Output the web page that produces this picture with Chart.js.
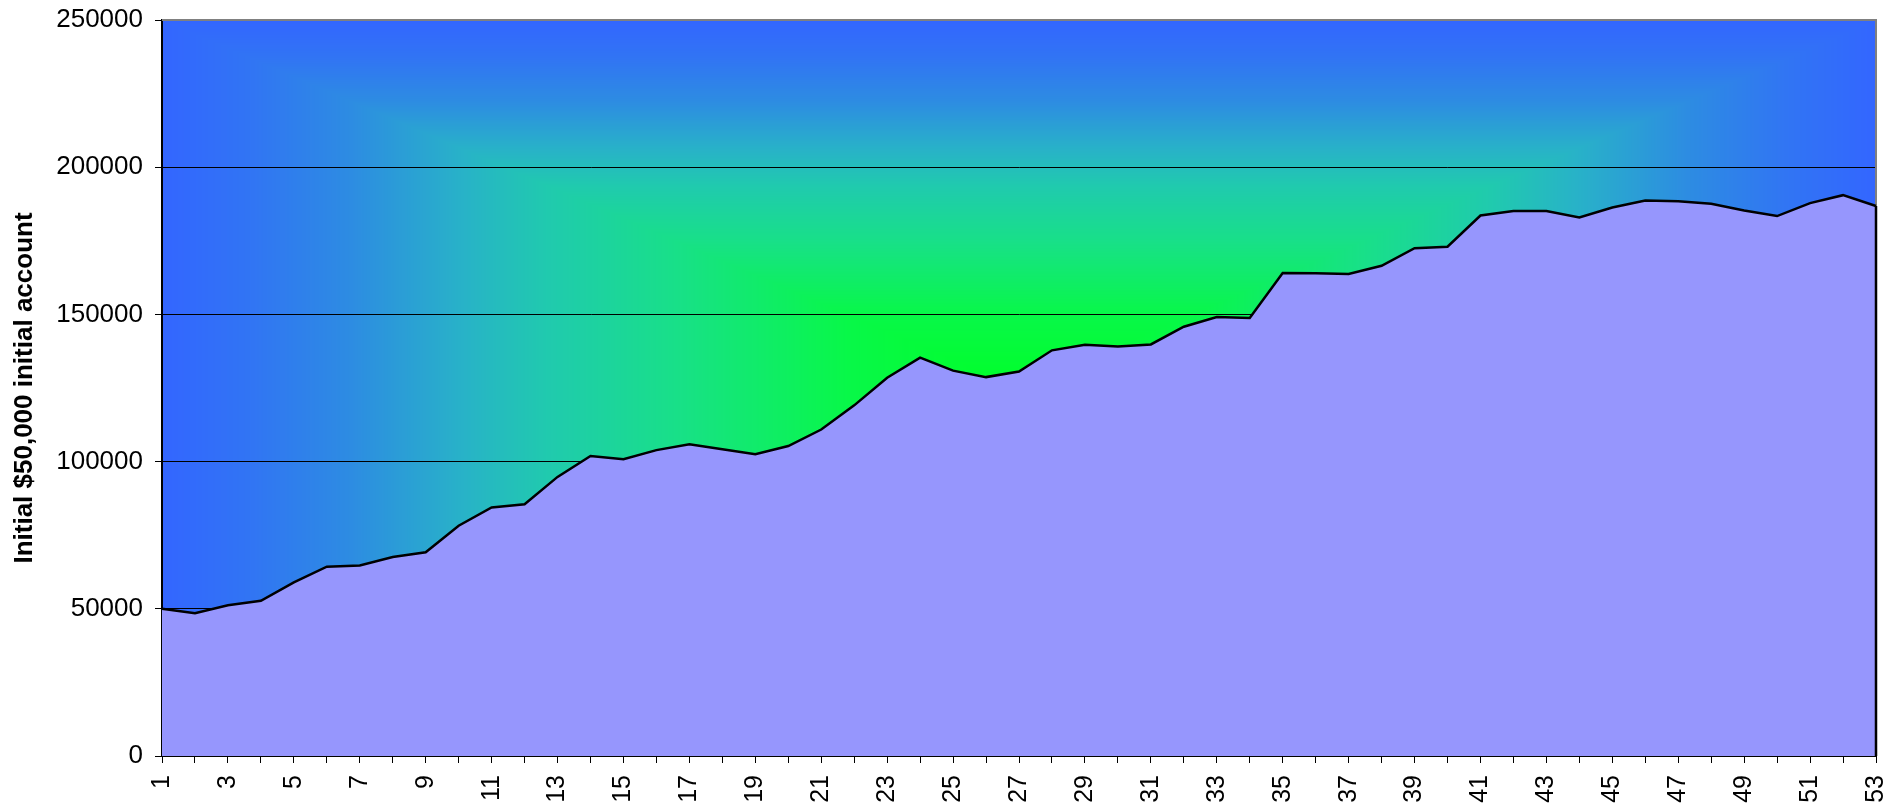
<!DOCTYPE html>
<html>

<head>
	<title>Account growth</title>
	<meta charset="UTF-8">
	<script src="https://cdn.jsdelivr.net/npm/chart.js@4.4.1/dist/chart.umd.min.js"></script>
	<style>
		body { margin: 0; background: #fff; }
	</style>
</head>

<body>
	<canvas id="accountChart" width="1901" height="809"></canvas>

	<script>
		// week numbers along the bottom axis
		var weeks = [1, 2, 3, 4, 5, 6, 7, 8, 9, 10, 11, 12, 13, 14, 15, 16, 17, 18, 19, 20,
			21, 22, 23, 24, 25, 26, 27, 28, 29, 30, 31, 32, 33, 34, 35, 36, 37, 38, 39, 40,
			41, 42, 43, 44, 45, 46, 47, 48, 49, 50, 51, 52, 53];

		// account value
		var balance = [50000, 48500, 51200, 52700, 59000, 64300, 64700, 67600, 69200, 78200,
			84400, 85500, 94800, 101900, 100800, 103900, 105900, 104200, 102500, 105300,
			110900, 119100, 128500, 135300, 130900, 128700, 130600, 137800, 139700, 139100,
			139800, 145800, 149100, 148800, 164100, 164000, 163700, 166500, 172500, 173000,
			183600, 185100, 185100, 182900, 186300, 188700, 188400, 187600, 185300, 183400,
			187800, 190500, 186800];

		var yTicks = [0, 50000, 100000, 150000, 200000, 250000];

		var axisTitle = "Initial $50,000 initial account";

		// colour ramp from the middle of the plot (0) out to its edges (1)
		var ramp = [
			[0, [0, 255, 40]],
			[0.2, [8, 248, 72]],
			[0.4, [24, 224, 136]],
			[0.55, [32, 202, 174]],
			[0.65, [40, 178, 200]],
			[0.78, [45, 140, 226]],
			[0.9, [49, 116, 244]],
			[1, [51, 102, 255]]
		];

		function rampColor(t) {
			for (var i = 1; i < ramp.length; i++) {
				if (t <= ramp[i][0]) {
					var a = ramp[i - 1], b = ramp[i];
					var f = (t - a[0]) / (b[0] - a[0]);
					return [
						a[1][0] + (b[1][0] - a[1][0]) * f,
						a[1][1] + (b[1][1] - a[1][1]) * f,
						a[1][2] + (b[1][2] - a[1][2]) * f
					];
				}
			}
			return ramp[ramp.length - 1][1];
		}

		var bgCache = null;

		var plotBackground = {
			id: 'plotBackground',
			beforeDraw: function (chart) {
				var area = chart.chartArea;
				var w = Math.round(area.right - area.left), h = Math.round(area.bottom - area.top);
				if (!bgCache || bgCache.width !== w || bgCache.height !== h) {
					bgCache = document.createElement('canvas');
					bgCache.width = w;
					bgCache.height = h;
					var c = bgCache.getContext('2d');
					var img = c.createImageData(w, h);
					var hw = w / 2, hh = h / 2;
					for (var y = 0; y < h; y++) {
						for (var x = 0; x < w; x++) {
							var t = Math.max(Math.abs(x - hw) / hw, Math.abs(y - hh) / hh);
							var col = rampColor(Math.min(t, 1));
							var k = (y * w + x) * 4;
							img.data[k] = col[0];
							img.data[k + 1] = col[1];
							img.data[k + 2] = col[2];
							img.data[k + 3] = 255;
						}
					}
					c.putImageData(img, 0, 0);
				}
				chart.ctx.drawImage(bgCache, area.left, area.top);
			},
			beforeDatasetsDraw: function (chart) {
				var ctx = chart.ctx, area = chart.chartArea;
				ctx.save();
				ctx.strokeStyle = '#808080';
				ctx.lineWidth = 2;
				ctx.beginPath();
				ctx.moveTo(area.left, area.top);
				ctx.lineTo(area.right, area.top);
				ctx.lineTo(area.right, area.bottom);
				ctx.stroke();
				ctx.restore();
			},
			afterDatasetsDraw: function (chart) {
				// closing edge of the area on the right
				var meta = chart.getDatasetMeta(0);
				var last = meta.data[meta.data.length - 1];
				var ctx = chart.ctx;
				ctx.save();
				ctx.strokeStyle = '#000';
				ctx.lineWidth = 2.5;
				ctx.beginPath();
				ctx.moveTo(last.x, last.y);
				ctx.lineTo(last.x, chart.chartArea.bottom);
				ctx.stroke();
				ctx.restore();
			}
		};

		new Chart(document.getElementById('accountChart'), {
			type: 'line',
			data: {
				labels: weeks,
				datasets: [{
					data: balance,
					fill: 'origin',
					backgroundColor: '#9696FD',
					borderColor: '#000000',
					borderWidth: 2.5,
					pointRadius: 0,
					tension: 0
				}]
			},
			options: {
				responsive: false,
				animation: false,
				layout: { padding: { top: 20, right: 25, left: 0, bottom: 0 } },
				plugins: {
					legend: { display: false },
					tooltip: { enabled: false }
				},
				scales: {
					x: {
						offset: false,
						grid: { drawOnChartArea: false, drawTicks: true, tickLength: 7, color: '#000', tickColor: '#000' },
						border: { color: '#000', width: 2 },
						ticks: {
							autoSkip: false,
							maxRotation: 90,
							minRotation: 90,
							padding: 12,
							color: '#000',
							font: { family: 'Liberation Sans, Arial, sans-serif', size: 25 },
							callback: function (v, i) { return i % 2 === 0 ? String(weeks[i]) : ''; }
						},
						afterFit: function (scale) {
							scale.height = 53;
							scale.paddingLeft = 0;
							scale.paddingRight = 0;
						}
					},
					y: {
						min: yTicks[0],
						max: yTicks[yTicks.length - 1],
						afterBuildTicks: function (scale) {
							scale.ticks = yTicks.map(function (v) { return { value: v }; });
						},
						grid: {
							color: function (c) { return c.tick && c.tick.value === 250000 ? 'rgba(0,0,0,0)' : '#000'; },
							tickColor: '#000',
							lineWidth: 1,
							tickLength: 7
						},
						border: { color: '#000', width: 2 },
						ticks: {
							padding: 12,
							color: '#000',
							font: { family: 'Liberation Sans, Arial, sans-serif', size: 26 },
							callback: function (v) { return String(v); }
						},
						title: {
							display: true,
							text: axisTitle,
							color: '#000',
							padding: { top: 9, bottom: 0 },
							font: { family: 'Liberation Sans, Arial, sans-serif', size: 26, weight: 'bold' }
						},
						afterFit: function (scale) {
							scale.width = 162;
							scale.paddingTop = 0;
							scale.paddingBottom = 0;
						}
					}
				}
			},
			plugins: [plotBackground]
		});
	</script>

</body>

</html>
